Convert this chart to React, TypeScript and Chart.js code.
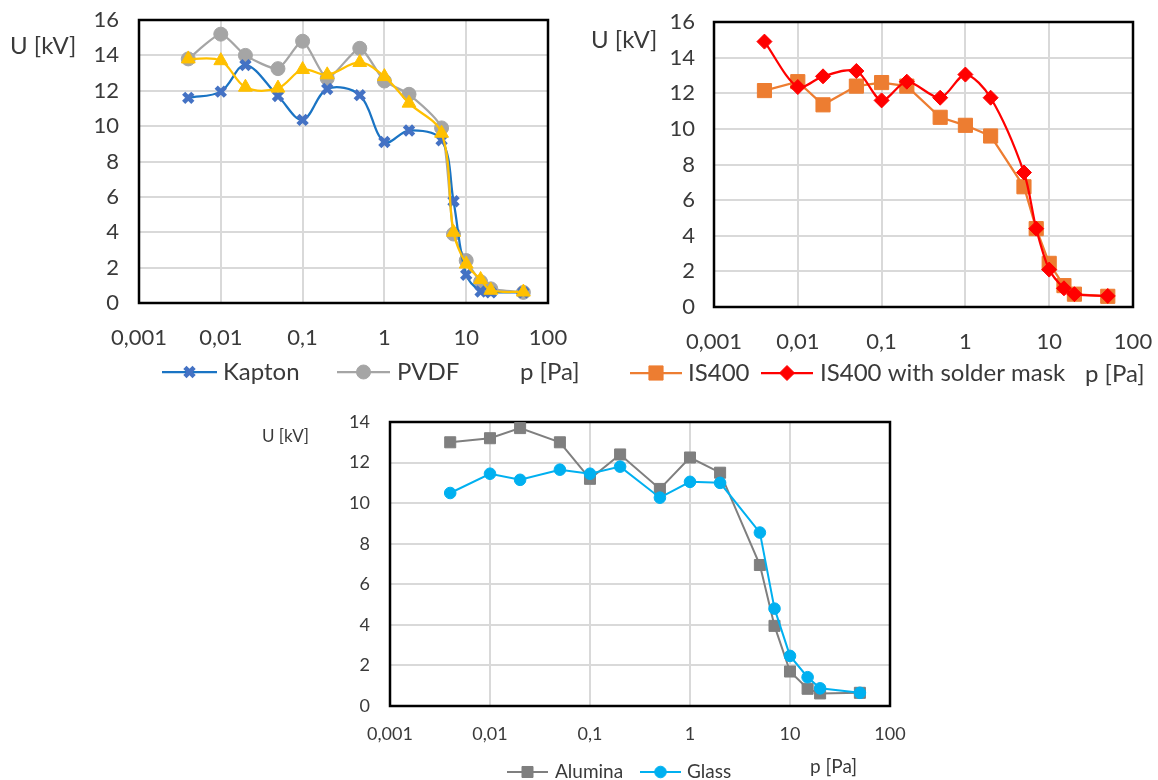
import React, { useEffect, useRef } from "react";
import { Chart, registerables } from "chart.js";
import { drawPoint } from "chart.js/helpers";

Chart.register(...registerables);

// ---------- data ----------
const pressure = [0.004, 0.01, 0.02, 0.05, 0.1, 0.2, 0.5, 1, 2, 5, 7, 10, 15, 20, 50];
const xTickValues = [0.001, 0.01, 0.1, 1, 10, 100];
const xTickLabels = ["0,001", "0,01", "0,1", "1", "10", "100"];

const kapton = [11.6, 11.95, 13.45, 11.7, 10.35, 12.1, 11.75, 9.1, 9.75, 9.2, 5.75, 1.6, 0.65, 0.6, 0.6];
const pvdf = [13.8, 15.2, 14.0, 13.25, 14.8, 12.7, 14.4, 12.55, 11.8, 9.9, 3.9, 2.4, 1.2, 0.8, 0.6];
const thirdSample = [13.8, 13.7, 12.2, 12.15, 13.2, 12.9, 13.6, 12.8, 11.3, 9.6, 4.0, 2.2, 1.33, 0.72, 0.62];

const is400 = [12.15, 12.65, 11.35, 12.4, 12.6, 12.4, 10.65, 10.2, 9.6, 6.75, 4.4, 2.45, 1.2, 0.72, 0.6];
const is400Mask = [14.9, 12.35, 12.95, 13.25, 11.6, 12.65, 11.75, 13.05, 11.75, 7.55, 4.4, 2.1, 1.05, 0.72, 0.62];

const alumina = [13.0, 13.2, 13.7, 13.0, 11.2, 12.4, 10.7, 12.25, 11.5, 6.95, 3.95, 1.7, 0.85, 0.62, 0.65];
const glass = [10.5, 11.45, 11.15, 11.65, 11.45, 11.8, 10.27, 11.05, 11.0, 8.55, 4.8, 2.47, 1.42, 0.87, 0.65];

const yTitle = "U [kV]";
const xTitle = "p [Pa]";

const FONT = "Lato, 'Open Sans', sans-serif";
const TEXT = "#3a3a3a";

const toPoints = (ys: number[]) => pressure.map((x, i) => ({ x, y: ys[i] }));

type LegendItem = { ds: number; label: string; x1: number; x2: number; y: number; tx: number };
type Panel = {
  left: number; top: number; width: number; height: number;
  plot: { left: number; right: number; top: number; bottom: number };
  yMax: number; tickFont: number; yPad: number; xPad: number;
  titleFont: number; yTitlePos: { x: number; y: number }; xTitlePos: { x: number; y: number };
  legendFont: number; legend: LegendItem[];
  datasets: any[];
};

const panels: Panel[] = [
  {
    left: 0, top: 0, width: 580, height: 395,
    plot: { left: 139, right: 548, top: 20, bottom: 303 },
    yMax: 16, tickFont: 22, yPad: 20, xPad: 22,
    titleFont: 24, yTitlePos: { x: 10, y: 46 }, xTitlePos: { x: 520, y: 372 },
    legendFont: 24,
    legend: [
      { ds: 0, label: "Kapton", x1: 162, x2: 217, y: 372, tx: 223 },
      { ds: 1, label: "PVDF", x1: 337, x2: 390, y: 372, tx: 397 },
    ],
    datasets: [
      { label: "Kapton", data: toPoints(kapton), borderColor: "#1A74C4", backgroundColor: "#4472C4",
        pointBorderColor: "#4472C4", pointStyle: "crossRot", pointRadius: 6.5, pointBorderWidth: 4.5,
        borderWidth: 2.25, tension: 0.35, order: 1 },
      { label: "PVDF", data: toPoints(pvdf), borderColor: "#A5A5A5", backgroundColor: "#A5A5A5",
        pointBorderColor: "#A5A5A5", pointStyle: "circle", pointRadius: 7, pointBorderWidth: 1,
        borderWidth: 2.25, tension: 0.2, order: 2 },
      { label: "", data: toPoints(thirdSample), borderColor: "#FFC000", backgroundColor: "#FFC000",
        pointBorderColor: "#FFC000", pointStyle: "triangle", pointRadius: 8, pointBorderWidth: 1,
        borderWidth: 2.25, tension: 0.35, order: 0 },
    ],
  },
  {
    left: 580, top: 0, width: 578, height: 395,
    plot: { left: 714, right: 1133, top: 22, bottom: 307 },
    yMax: 16, tickFont: 22, yPad: 19, xPad: 22,
    titleFont: 24, yTitlePos: { x: 591, y: 40 }, xTitlePos: { x: 1085, y: 374 },
    legendFont: 24,
    legend: [
      { ds: 0, label: "IS400", x1: 630, x2: 682, y: 373, tx: 688 },
      { ds: 1, label: "IS400 with solder mask", x1: 761, x2: 813, y: 373, tx: 820 },
    ],
    datasets: [
      { label: "IS400", data: toPoints(is400), borderColor: "#ED7D31", backgroundColor: "#ED7D31",
        pointBorderColor: "#ED7D31", pointStyle: "rect", pointRadius: 10, pointBorderWidth: 1,
        borderWidth: 2.25, tension: 0, order: 1 },
      { label: "IS400 with solder mask", data: toPoints(is400Mask), borderColor: "#FF0000", backgroundColor: "#FF0000",
        pointBorderColor: "#FF0000", pointStyle: "rectRot", pointRadius: 7.5, pointBorderWidth: 1,
        borderWidth: 2.25, tension: 0.3, order: 0 },
    ],
  },
  {
    left: 230, top: 400, width: 700, height: 380,
    plot: { left: 390, right: 890, top: 422, bottom: 706 },
    yMax: 14, tickFont: 18, yPad: 20, xPad: 17,
    titleFont: 17, yTitlePos: { x: 262, y: 437 }, xTitlePos: { x: 810, y: 767 },
    legendFont: 19,
    legend: [
      { ds: 0, label: "Alumina", x1: 507, x2: 548, y: 772, tx: 555 },
      { ds: 1, label: "Glass", x1: 640, x2: 681, y: 772, tx: 687 },
    ],
    datasets: [
      { label: "Alumina", data: toPoints(alumina), borderColor: "#7F7F7F", backgroundColor: "#7F7F7F",
        pointBorderColor: "#7F7F7F", pointStyle: "rect", pointRadius: 7.8, pointBorderWidth: 1,
        borderWidth: 2, tension: 0, order: 1 },
      { label: "Glass", data: toPoints(glass), borderColor: "#00B0F0", backgroundColor: "#00B0F0",
        pointBorderColor: "#00B0F0", pointStyle: "circle", pointRadius: 5.8, pointBorderWidth: 1,
        borderWidth: 2, tension: 0, order: 0 },
    ],
  },
];

function makeDecor(p: Panel) {
  return {
    id: "decor",
    beforeDatasetsDraw(chart: any) {
      const { ctx, chartArea: a } = chart;
      ctx.save();
      ctx.strokeStyle = "#000";
      ctx.lineWidth = 2.5;
      ctx.strokeRect(a.left, a.top, a.right - a.left, a.bottom - a.top);
      ctx.restore();
    },
    afterDraw(chart: any) {
      const ctx = chart.ctx as CanvasRenderingContext2D;
      ctx.save();
      ctx.fillStyle = TEXT;
      ctx.textBaseline = "middle";
      ctx.textAlign = "left";
      ctx.font = `${p.titleFont}px ${FONT}`;
      ctx.fillText(yTitle, p.yTitlePos.x - p.left, p.yTitlePos.y - p.top);
      ctx.font = `${p.legendFont}px ${FONT}`;
      ctx.fillText(xTitle, p.xTitlePos.x - p.left, p.xTitlePos.y - p.top);
      for (const it of p.legend) {
        const ds: any = chart.data.datasets[it.ds];
        const y = it.y - p.top;
        ctx.strokeStyle = ds.borderColor;
        ctx.lineWidth = ds.borderWidth;
        ctx.beginPath();
        ctx.moveTo(it.x1 - p.left, y);
        ctx.lineTo(it.x2 - p.left, y);
        ctx.stroke();
        ctx.fillStyle = ds.backgroundColor;
        ctx.strokeStyle = ds.pointBorderColor;
        ctx.lineWidth = ds.pointBorderWidth;
        drawPoint(ctx, { pointStyle: ds.pointStyle, rotation: 0, radius: ds.pointRadius, borderWidth: ds.pointBorderWidth } as any,
          (it.x1 + it.x2) / 2 - p.left, y);
        ctx.fillStyle = TEXT;
        ctx.font = `${p.legendFont}px ${FONT}`;
        ctx.fillText(it.label, it.tx - p.left, y);
      }
      ctx.restore();
    },
  };
}

function PanelChart({ p }: { p: Panel }) {
  const ref = useRef<HTMLCanvasElement | null>(null);
  useEffect(() => {
    if (!ref.current) return;
    const yWidth = p.plot.left - p.left;
    const xHeight = p.top + p.height - p.plot.bottom;
    const chart = new Chart(ref.current, {
      type: "line",
      data: { datasets: p.datasets.map((d) => ({ ...d, fill: false })) },
      options: {
        animation: false,
        responsive: false,
        maintainAspectRatio: false,
        layout: {
          padding: { left: 0, top: p.plot.top - p.top, right: p.left + p.width - p.plot.right, bottom: 0 },
        },
        plugins: { legend: { display: false }, tooltip: { enabled: false } },
        scales: {
          x: {
            type: "logarithmic",
            min: 0.001,
            max: 100,
            afterBuildTicks: (scale: any) => {
              scale.ticks = xTickValues.map((v) => ({ value: v }));
            },
            afterFit: (scale: any) => {
              scale.height = xHeight;
              scale.paddingLeft = 0;
              scale.paddingRight = 0;
              scale.paddingTop = 0;
              scale.paddingBottom = 0;
            },
            ticks: {
              autoSkip: false,
              maxRotation: 0,
              padding: p.xPad,
              color: TEXT,
              font: { family: FONT, size: p.tickFont },
              callback: (_v: any, i: number) => xTickLabels[i],
            },
            grid: { color: "#D9D9D9", lineWidth: 2, drawTicks: false },
            border: { display: false },
          },
          y: {
            type: "linear",
            min: 0,
            max: p.yMax,
            afterFit: (scale: any) => {
              scale.width = yWidth;
              scale.paddingLeft = 0;
              scale.paddingRight = 0;
              scale.paddingTop = 0;
              scale.paddingBottom = 0;
            },
            ticks: {
              stepSize: 2,
              padding: p.yPad,
              color: TEXT,
              font: { family: FONT, size: p.tickFont },
            },
            grid: { color: "#D9D9D9", lineWidth: 2, drawTicks: false },
            border: { display: false },
          },
        },
      } as any,
      plugins: [makeDecor(p)],
    });
    return () => chart.destroy();
  }, [p]);
  return (
    <canvas
      ref={ref}
      width={p.width}
      height={p.height}
      style={{ position: "absolute", left: p.left, top: p.top, width: p.width, height: p.height }}
    />
  );
}

export default function App() {
  return (
    <div style={{ position: "fixed", left: 0, top: 0, width: 1158, height: 780, background: "#fff", overflow: "hidden" }}>
      {panels.map((p, i) => (
        <PanelChart key={i} p={p} />
      ))}
    </div>
  );
}
